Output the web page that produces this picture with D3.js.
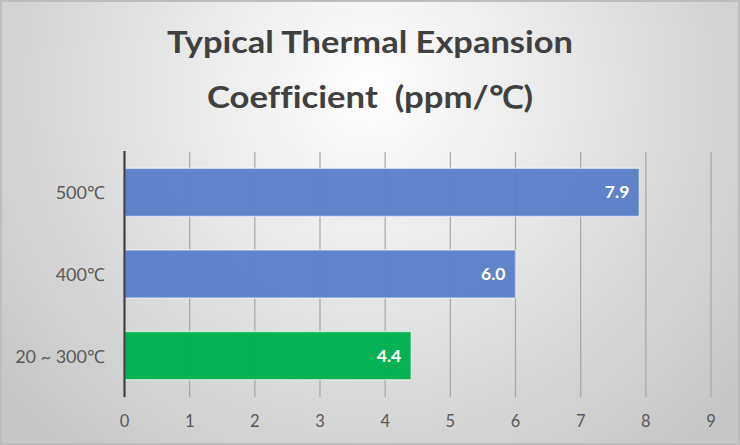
<!DOCTYPE html>
<html><head><meta charset="utf-8">
<script src="https://cdn.jsdelivr.net/npm/d3@7"></script>
<style>body{margin:0;background:#fff}svg{display:block}</style>
</head><body>
<svg id="c" width="740" height="445"></svg>
<script>
const categories = ["500℃", "400℃", "20 ~ 300℃"];
const values = [7.9, 6.0, 4.4];
const barColors = ["#5a80c8", "#5a80c8", "#00b050"];
const xTicks = [0,1,2,3,4,5,6,7,8,9];
const titleLines = ["Typical Thermal Expansion", "Coefficient  (ppm/℃)"];

const W = 740, H = 445;
const svg = d3.select("#c");
const defs = svg.append("defs");
const rg = defs.append("radialGradient").attr("id","bg")
  .attr("gradientUnits","userSpaceOnUse").attr("cx",370).attr("cy",90).attr("r",470);
rg.append("stop").attr("offset","0").attr("stop-color","#ffffff");
rg.append("stop").attr("offset","1").attr("stop-color","#c6c6c6");
svg.append("rect").attr("x",0).attr("y",0).attr("width",W).attr("height",H).attr("fill","url(#bg)");
svg.append("rect").attr("x",1).attr("y",1).attr("width",W-2).attr("height",H-2)
  .attr("fill","none").attr("stroke","#bdbdbd").attr("stroke-width",2);

const font = "Lato, 'Open Sans', sans-serif";
const titleW = [406, 326];
svg.selectAll("text.title").data(titleLines).join("text").attr("class","title")
  .attr("x",370).attr("y",(d,i)=>53+i*55).attr("text-anchor","middle")
  .attr("font-family",font).attr("font-weight","bold").attr("font-size",31)
  .attr("textLength",(d,i)=>titleW[i]).attr("lengthAdjust","spacingAndGlyphs")
  .attr("fill","#404040").style("white-space","pre").style("font-variant-ligatures","none").text(d=>d);

const x = d3.scaleLinear().domain([0,9]).range([124.5,711]);
const y = d3.scaleBand().domain(categories).range([152,396]).paddingInner(0.41).paddingOuter(0.2);

const g = svg.append("g");
g.selectAll("line.grid").data(xTicks.slice(1)).join("line").attr("class","grid")
  .attr("x1",d=>x(d)).attr("x2",d=>x(d)).attr("y1",152).attr("y2",397)
  .attr("stroke","#a6a6a6").attr("stroke-width",1.2);

g.selectAll("rect.bar").data(values).join("rect").attr("class","bar")
  .attr("x",x(0)).attr("y",(d,i)=>y(categories[i]))
  .attr("width",d=>x(d)-x(0)).attr("height",y.bandwidth())
  .attr("fill",(d,i)=>barColors[i]).attr("fill-opacity",0.97)
  .attr("stroke","rgba(255,255,255,0.55)").attr("stroke-width",1.5);

g.selectAll("text.val").data(values).join("text").attr("class","val")
  .attr("x",d=>x(d)-10).attr("y",(d,i)=>y(categories[i])+y.bandwidth()/2+6)
  .attr("text-anchor","end").attr("font-family",font).attr("font-weight","bold")
  .attr("font-size",17.5).attr("fill","#ffffff").text(d=>d.toFixed(1));

g.append("line").attr("x1",x(0)).attr("x2",x(0)).attr("y1",151).attr("y2",397)
  .attr("stroke","#404040").attr("stroke-width",2.2);

g.selectAll("text.cat").data(categories).join("text").attr("class","cat")
  .attr("x",105).attr("y",d=>y(d)+y.bandwidth()/2+7).attr("text-anchor","end")
  .attr("font-family",font).attr("font-size",18).attr("fill","#595959").text(d=>d);

g.selectAll("text.xt").data(xTicks).join("text").attr("class","xt")
  .attr("x",d=>x(d)).attr("y",427).attr("text-anchor","middle")
  .attr("font-family",font).attr("font-size",16.5).attr("fill","#595959").text(d=>d);
</script>
</body></html>
